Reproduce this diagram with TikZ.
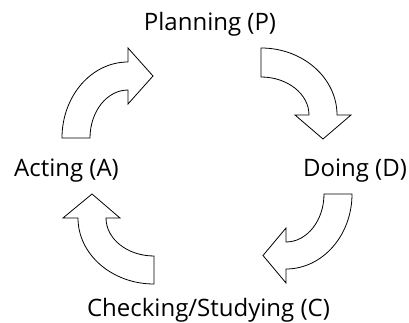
\documentclass[tikz,border=0pt]{standalone}
\usepackage{fontspec}
\setmainfont{Open Sans}
\begin{document}
\begin{tikzpicture}[x=1pt,y=1pt,
  blockarrow/.style={draw=black,fill=white,line width=0.8pt,line join=miter},
  label/.style={anchor=base,inner sep=0pt,font=\fontsize{24}{28}\selectfont}]
\useasboundingbox (0,0) rectangle (409,323);
% labels
\node[label] (P) at (210,292) {Planning (P)};
\node[label] (D) at (355,146) {Doing (D)};
\node[label] (C) at (208.5,6) {Checking/Studying (C)};
\node[label] (A) at (66.5,146) {Acting (A)};
% A -> P
\draw[blockarrow] (62,185) arc[start angle=180,end angle=90,x radius=66,y radius=76]
  -- (128,275) -- (153,247) -- (128,219) -- (128,233)
  arc[start angle=90,end angle=180,x radius=38,y radius=48] -- cycle;
% P -> D
\draw[blockarrow] (261,275) arc[start angle=90,end angle=0,x radius=76,y radius=67]
  -- (351,208) -- (323,184) -- (295,208) -- (309,208)
  arc[start angle=0,end angle=90,x radius=48,y radius=38] -- cycle;
% D -> C
\draw[blockarrow] (352,129) arc[start angle=0,end angle=-90,x radius=66,y radius=75]
  -- (286,40) -- (263,67.5) -- (286,95) -- (286,81)
  arc[start angle=-90,end angle=0,x radius=38,y radius=48] -- cycle;
% C -> A
\draw[blockarrow] (154,39) arc[start angle=-90,end angle=-180,x radius=76,y radius=66]
  -- (63,105) -- (92,129) -- (120,105) -- (106,105)
  arc[start angle=180,end angle=270,x radius=48,y radius=38] -- cycle;
\end{tikzpicture}
\end{document}
